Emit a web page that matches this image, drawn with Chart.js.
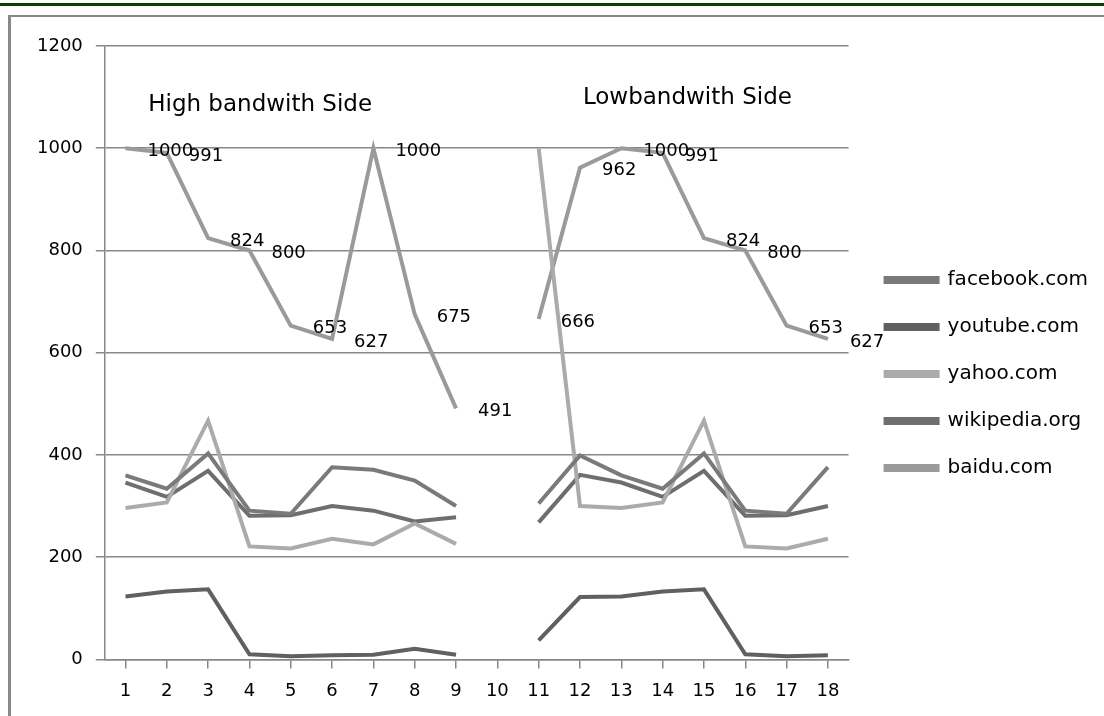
<!DOCTYPE html>
<html>
<head>
<meta charset="utf-8">
<script src="https://cdn.jsdelivr.net/npm/chart.js@4"></script>
<style>
  html, body { margin: 0; padding: 0; background: #fff; }
  body { width: 1104px; height: 716px; position: relative; overflow: hidden; }
  #topline { position: absolute; left: 0; top: 3px; width: 1104px; height: 3px; background: #0b3b0b; }
  #frame { position: absolute; left: 8px; top: 15px; width: 1100px; height: 710px;
           border-left: 3px solid #888; border-top: 2px solid #888; }
  #wrap { position: absolute; left: 0; top: 0; width: 1104px; height: 716px; }
</style>
</head>
<body>
<div id="topline"></div>
<div id="frame"></div>
<div id="wrap"><canvas id="chart"></canvas></div>
<script>
// x categories and y ticks
const categories = ['1','2','3','4','5','6','7','8','9','10','11','12','13','14','15','16','17','18'];
const yTicks = [0, 200, 400, 600, 800, 1000, 1200];

// series values (10 is empty)
const facebook  = [360, 334, 403, 291, 285, 376, 371, 350, 300, null, 305, 399, 360, 334, 403, 291, 285, 376];
const youtube   = [123, 133, 137, 10, 6, 8, 9, 21, 9, null, 37, 122, 123, 133, 137, 10, 6, 8];
const yahoo     = [296, 307, 467, 221, 217, 236, 225, 266, 226, null, 1000, 300, 296, 307, 467, 221, 217, 236];
const wikipedia = [346, 318, 369, 281, 282, 300, 291, 270, 278, null, 268, 361, 346, 318, 369, 281, 282, 300];
const baidu     = [1000, 991, 824, 800, 653, 627, 1000, 675, 491, null, 666, 962, 1000, 991, 824, 800, 653, 627];

// side captions: text, category index, y value
const captions = [
  { text: 'High bandwith Side', x: 0.55, y: 1085 },
  { text: 'Lowbandwith Side', x: 11.07, y: 1098 }
];

function line(label, data, color) {
  return {
    label: label,
    data: data,
    borderColor: color,
    backgroundColor: color,
    borderWidth: 4,
    pointRadius: 0,
    tension: 0,
    spanGaps: false
  };
}

// draws baidu value labels and the two captions
const textPlugin = {
  id: 'texts',
  afterLayout(chart) {
    // push the legend a bit away from the plot
    if (chart.legend) {
      chart.legend.left += 10;
      chart.legend.right += 10;
      chart.legend.top -= 6;
      chart.legend.bottom -= 6;
    }
  },
  afterDatasetsDraw(chart) {
    const ctx = chart.ctx;
    const xs = chart.scales.x, ys = chart.scales.y;
    ctx.save();
    ctx.fillStyle = '#000';
    ctx.textAlign = 'left';
    ctx.textBaseline = 'middle';
    ctx.font = '18px "DejaVu Sans"';
    const meta = chart.getDatasetMeta(4);
    meta.data.forEach((pt, i) => {
      if (baidu[i] == null) return;
      ctx.fillText(String(baidu[i]), pt.x + 22, pt.y + 3);
    });
    ctx.font = '23px "DejaVu Sans"';
    captions.forEach(c => {
      ctx.fillText(c.text, xs.getPixelForValue(c.x), ys.getPixelForValue(c.y));
    });
    ctx.restore();
  }
};

new Chart(document.getElementById('chart'), {
  type: 'line',
  data: {
    labels: categories,
    datasets: [
      line('facebook.com', facebook, '#7a7a7a'),
      line('youtube.com', youtube, '#606060'),
      line('yahoo.com', yahoo, '#ababab'),
      line('wikipedia.org', wikipedia, '#6e6e6e'),
      line('baidu.com', baidu, '#9a9a9a')
    ]
  },
  options: {
    responsive: true,
    maintainAspectRatio: false,
    animation: false,
    layout: { padding: { left: 24, top: 46, right: 16, bottom: 2 } },
    plugins: {
      tooltip: { enabled: false },
      legend: {
        position: 'right',
        labels: {
          boxWidth: 52,
          boxHeight: 4,
          padding: 27,
          color: '#000',
          font: { family: 'DejaVu Sans', size: 20 }
        }
      }
    },
    scales: {
      x: {
        offset: true,
        grid: { drawOnChartArea: false, drawTicks: true, tickLength: 9, color: '#888', lineWidth: 1.5 },
        border: { color: '#888', width: 1.5 },
        ticks: { color: '#000', padding: 12, font: { family: 'DejaVu Sans', size: 18 }, maxRotation: 0, autoSkip: false }
      },
      y: {
        min: 0,
        max: 1200,
        afterBuildTicks(axis) { axis.ticks = yTicks.map(v => ({ value: v })); },
        grid: { color: '#888', lineWidth: 1.5, tickLength: 9 },
        border: { color: '#888', width: 1.5 },
        ticks: { color: '#000', padding: 13, font: { family: 'DejaVu Sans', size: 18 }, callback: v => String(v) }
      }
    }
  },
  plugins: [textPlugin]
});
</script>
</body>
</html>
